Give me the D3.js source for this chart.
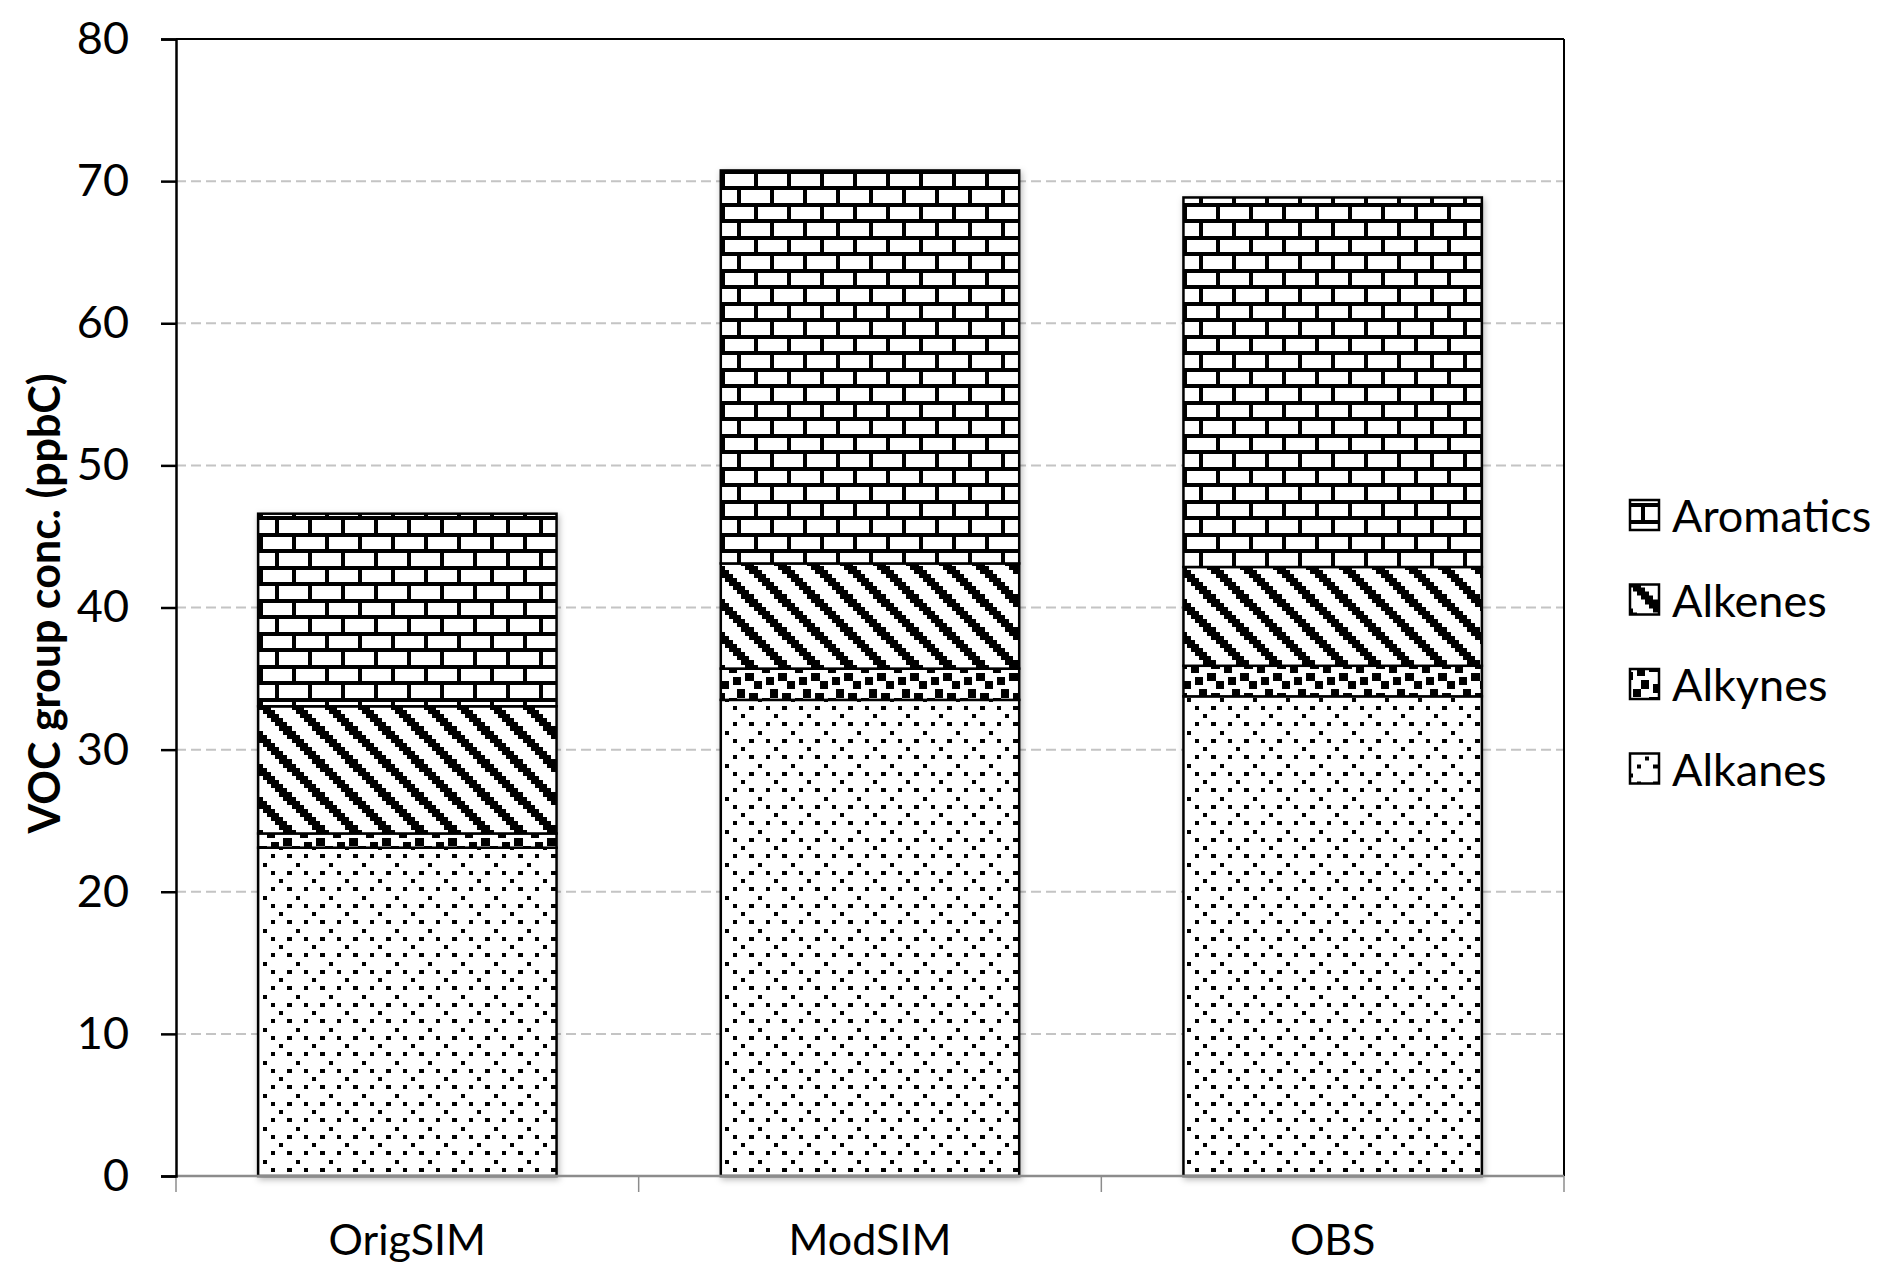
<!DOCTYPE html>
<html>
<head>
<meta charset="utf-8">
<script src="https://cdn.jsdelivr.net/npm/d3@7"></script>
<style>
  html, body { margin: 0; padding: 0; background: #fff; }
  svg { display: block; }
  text { font-family: Lato, "Open Sans", sans-serif; fill: #000; }
</style>
</head>
<body>
<svg id="chart" width="1892" height="1284"></svg>
<script>
// ---------------- data ----------------
const categories = ["OrigSIM", "ModSIM", "OBS"];
const seriesNames = ["Alkanes", "Alkynes", "Alkenes", "Aromatics"];
const alkanes   = [23.1, 33.5, 33.75];
const alkynes   = [1.0, 2.2, 2.15];
const alkenes   = [8.95, 7.4, 6.95];
const aromatics = [13.55, 27.65, 26.0];
const yTicks = [0, 10, 20, 30, 40, 50, 60, 70, 80];
const yTitle = "VOC group conc. (ppbC)";
const legendOrder = ["Aromatics", "Alkenes", "Alkynes", "Alkanes"];

// ---------------- pattern bitmaps (8x8, Excel-like hatch styles) ----------------
const patternBits = {
  Aromatics: ["11111111","10000000","10000000","10000000","11111111","00001000","00001000","00001000"],
  Alkenes:   ["10000011","11000001","11100000","01110000","00111000","00011100","00001110","00000111"],
  Alkynes:   ["10001101","00001100","11000000","11011000","00011011","00000011","00110000","10110001"],
  Alkanes:   ["01000000","00000000","00010001","00000000","00000100","00000000","00010001","00000000"]
};

const W = 1892, H = 1284;
const plot = { left: 176, right: 1564, top: 39, bottom: 1176 };
const unit = 4.125;

const svg = d3.select("#chart");
const defs = svg.append("defs");

Object.keys(patternBits).forEach(name => {
  const p = defs.append("pattern")
    .attr("id", "pat-" + name)
    .attr("patternUnits", "userSpaceOnUse")
    .attr("x", plot.left).attr("y", plot.bottom)
    .attr("width", 8 * unit).attr("height", 8 * unit);
  p.append("rect").attr("width", 8 * unit).attr("height", 8 * unit).attr("fill", "#fff");
  patternBits[name].forEach((row, r) => {
    row.split("").forEach((b, c) => {
      if (b === "1") {
        p.append("rect")
          .attr("x", c * unit).attr("y", r * unit)
          .attr("width", unit + 0.02).attr("height", unit + 0.02)
          .attr("fill", "#000")
          .attr("shape-rendering", "crispEdges");
      }
    });
  });
});

const shadow = defs.append("filter").attr("id", "shadow")
  .attr("x", "-5%").attr("y", "-5%").attr("width", "110%").attr("height", "110%");
shadow.append("feDropShadow").attr("dx", 1.5).attr("dy", 2.5)
  .attr("stdDeviation", 3).attr("flood-color", "#000").attr("flood-opacity", 0.28);

// ---------------- scales ----------------
const x = d3.scaleBand().domain(categories)
  .range([plot.left, plot.right])
  .paddingInner(0.355).paddingOuter(0.1775);
const xCat = d3.scaleBand().domain(categories).range([plot.left, plot.right]).padding(0);
const y = d3.scaleLinear().domain([0, 80]).range([plot.bottom, plot.top]);

// ---------------- gridlines ----------------
svg.append("g").selectAll("line")
  .data(yTicks.filter(t => t > 0 && t < 80))
  .join("line")
  .attr("x1", plot.left).attr("x2", plot.right)
  .attr("y1", d => y(d)).attr("y2", d => y(d))
  .attr("stroke", "#c4c4c4").attr("stroke-width", 2)
  .attr("stroke-dasharray", "10,5");

// ---------------- stacked bars ----------------
const table = categories.map((c, i) => ({
  cat: c, Alkanes: alkanes[i], Alkynes: alkynes[i], Alkenes: alkenes[i], Aromatics: aromatics[i]
}));
const stacked = d3.stack().keys(seriesNames)(table);

const barGroups = svg.append("g").selectAll("g")
  .data(categories)
  .join("g")
  .attr("filter", "url(#shadow)");

barGroups.each(function(cat, i) {
  const g = d3.select(this);
  stacked.forEach(layer => {
    const d = layer[i];
    g.append("rect")
      .attr("x", x(cat))
      .attr("width", x.bandwidth())
      .attr("y", y(d[1]))
      .attr("height", y(d[0]) - y(d[1]))
      .attr("fill", "url(#pat-" + layer.key + ")")
      .attr("stroke", "#000")
      .attr("stroke-width", 2.5);
  });
});

// ---------------- frame & axes ----------------
svg.append("line").attr("x1", plot.left).attr("x2", plot.right)
  .attr("y1", plot.top).attr("y2", plot.top)
  .attr("stroke", "#000").attr("stroke-width", 2);
svg.append("line").attr("x1", plot.right).attr("x2", plot.right)
  .attr("y1", plot.top).attr("y2", plot.bottom)
  .attr("stroke", "#000").attr("stroke-width", 2);

const xAxisG = svg.append("g").attr("transform", `translate(0,${plot.bottom})`);
xAxisG.append("line").attr("x1", plot.left).attr("x2", plot.right)
  .attr("y1", 0).attr("y2", 0).attr("stroke", "#8c8c8c").attr("stroke-width", 2.5);
const boundaries = categories.map(c => xCat(c)).concat([xCat(categories[categories.length - 1]) + xCat.bandwidth()]);
xAxisG.selectAll("line.tick").data(boundaries).join("line")
  .attr("class", "tick")
  .attr("x1", d => d).attr("x2", d => d)
  .attr("y1", 0).attr("y2", 16)
  .attr("stroke", "#8c8c8c").attr("stroke-width", 1.5);
xAxisG.selectAll("text").data(categories).join("text")
  .attr("x", d => xCat(d) + xCat.bandwidth() / 2)
  .attr("y", 79)
  .attr("text-anchor", "middle")
  .attr("font-size", 43)
  .text(d => d);

const yAxis = d3.axisLeft(y).tickValues(yTicks).tickSize(15).tickPadding(32).tickFormat(d3.format("d"));
const yAxisG = svg.append("g").attr("transform", `translate(${plot.left},0)`).call(yAxis);
yAxisG.select(".domain").attr("stroke", "#000").attr("stroke-width", 2.5);
yAxisG.selectAll(".tick line").attr("stroke", "#000").attr("stroke-width", 2.5);
yAxisG.selectAll(".tick text")
  .attr("font-size", 45)
  .attr("font-family", "Lato, 'Open Sans', sans-serif")
  .attr("fill", "#000");

svg.append("text")
  .attr("transform", `translate(43,${(plot.top + plot.bottom) / 2 - 4}) rotate(-90)`)
  .attr("text-anchor", "middle")
  .attr("dominant-baseline", "central")
  .attr("font-size", 43)
  .attr("font-weight", "bold")
  .text(yTitle);

// ---------------- legend ----------------
const legendY0 = 515, legendStep = 84.5;
const legend = svg.append("g").selectAll("g").data(legendOrder).join("g")
  .attr("transform", (d, i) => `translate(1630,${legendY0 + i * legendStep})`);
legend.append("rect")
  .attr("x", 0).attr("y", -15).attr("width", 29).attr("height", 30)
  .attr("fill", d => "url(#pat-" + d + ")")
  .attr("stroke", "#000").attr("stroke-width", 2.5);
legend.append("text")
  .attr("x", 42).attr("y", 0)
  .attr("dominant-baseline", "central")
  .attr("font-size", 45)
  .text(d => d);
</script>
</body>
</html>
